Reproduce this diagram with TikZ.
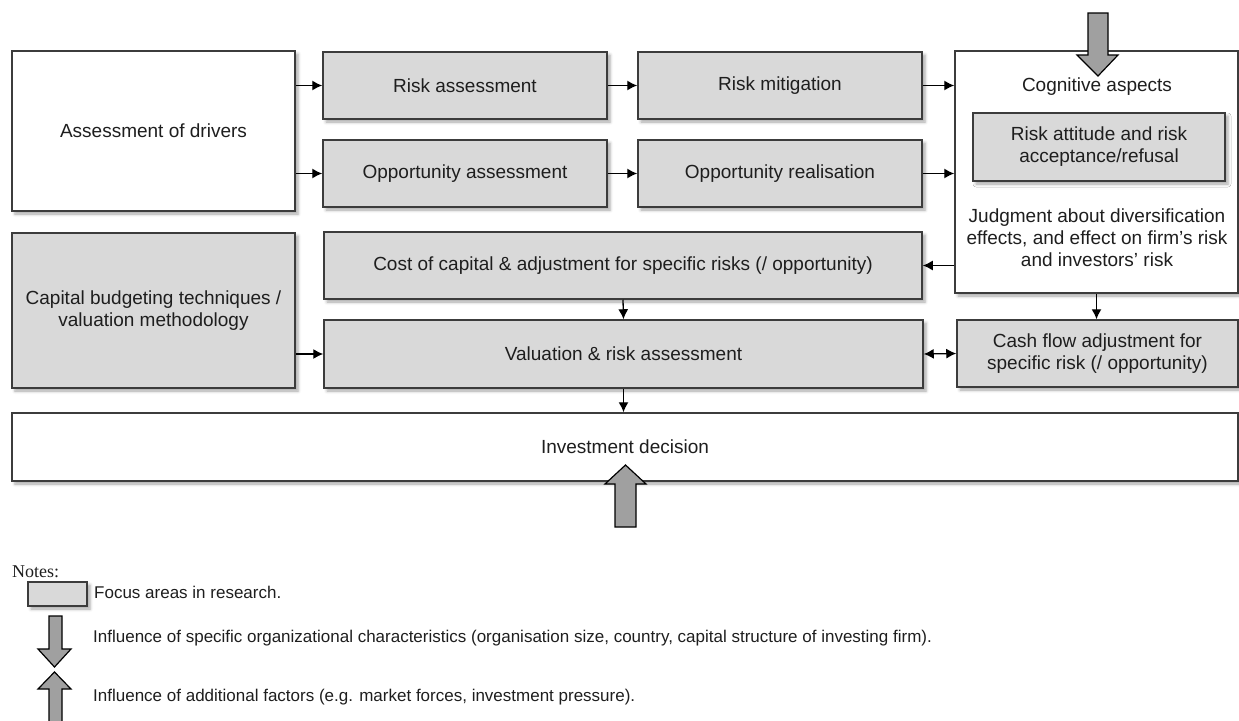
\documentclass[tikz,border=0pt]{standalone}
\usepackage{fontspec}
\setmainfont{Liberation Sans}
\newfontfamily\notesfont{Liberation Serif}
\usepackage{xcolor}
\usetikzlibrary{arrows.meta,shadows.blur}
\definecolor{grisFoco}{RGB}{217, 217, 217}
\definecolor{grisBorde}{RGB}{60, 60, 60}
\definecolor{grisFlecha}{RGB}{160, 160, 160}
\definecolor{grisTexto}{RGB}{30, 30, 30}

\begin{document}
\begin{tikzpicture}[x=1pt, y=-1pt,
  plain/.style={rectangle, draw=grisBorde, line width=1.5pt, fill=white, align=center,
    inner sep=0pt, text=grisTexto, font=\fontsize{19}{22}\selectfont,
    blur shadow={shadow xshift=3pt, shadow yshift=-3pt, shadow blur radius=3pt, shadow opacity=35}},
  focus/.style={plain, fill=grisFoco},
  txt/.style={align=center, inner sep=0pt, text=grisTexto, font=\fontsize{19}{22}\selectfont},
  note/.style={anchor=west, inner sep=0pt, text=grisTexto, font=\fontsize{17}{20}\selectfont},
  arrow/.style={-{Latex[length=10pt, width=10pt]}, line width=1.3pt},
  bigarrow/.style={draw=black, line width=1.2pt, fill=grisFlecha, line join=miter}
]
\useasboundingbox (0,0) rectangle (1239,720);

% upper row
\node[plain, minimum width=283pt, minimum height=160pt] (drivers) at (153.5,131) {Assessment of drivers};
\node[focus, minimum width=284pt, minimum height=67pt] (riskass) at (465,85.5) {Risk assessment};
\node[focus, minimum width=284pt, minimum height=67pt] (riskmit) at (780,85.5) {Risk mitigation};
\node[focus, minimum width=284pt, minimum height=67pt] (oppass) at (465,173.5) {Opportunity assessment};
\node[focus, minimum width=284pt, minimum height=67pt] (oppreal) at (780,173.5) {Opportunity realisation};

% cognitive block
\node[plain, minimum width=283pt, minimum height=242pt] (cognitive) at (1096.5,172) {};
\node[txt] (cogtitle) at (1097,87) {Cognitive aspects};
\node[focus, minimum width=252pt, minimum height=68pt] (attitude) at (1099,147) {Risk attitude and risk\\acceptance/refusal};
\node[txt] (judgment) at (1097,238) {Judgment about diversification\\effects, and effect on firm’s risk\\and investors’ risk};

% lower rows
\node[focus, minimum width=283pt, minimum height=155pt] (capbud) at (153.5,310.5) {Capital budgeting techniques /\\valuation methodology};
\node[focus, minimum width=598pt, minimum height=67pt] (cost) at (623,265.5) {Cost of capital \& adjustment for specific risks (/ opportunity)};
\node[focus, minimum width=599pt, minimum height=68pt] (valuation) at (623.5,354) {Valuation \& risk assessment};
\node[focus, minimum width=281pt, minimum height=67pt] (cashflow) at (1097.5,353.5) {Cash flow adjustment for\\specific risk (/ opportunity)};
\node[plain, minimum width=1226pt, minimum height=68pt] (invest) at (625,447) {Investment decision};

% connectors
\draw[arrow] (drivers.east |- riskass.west) -- (riskass.west);
\draw[arrow] (drivers.east |- oppass.west) -- (oppass.west);
\draw[arrow] (riskass) -- (riskmit);
\draw[arrow] (oppass) -- (oppreal);
\draw[arrow] (riskmit.east) -- (riskmit.east -| cognitive.west);
\draw[arrow] (oppreal.east) -- (oppreal.east -| cognitive.west);
\draw[arrow] (cognitive.west |- cost.east) -- (cost.east);
\draw[arrow] (cost.south) -- (valuation.north);
\draw[arrow] (cognitive.south) -- (cognitive.south |- cashflow.north);
\draw[arrow] (capbud.east |- valuation.west) -- (valuation.west);
\draw[{Latex[length=10pt, width=10pt]}-{Latex[length=10pt, width=10pt]}, line width=1.3pt] (valuation.east) -- (cashflow.west);
\draw[arrow] (valuation.south) -- (valuation.south |- invest.north);

% block arrows
\draw[bigarrow] (1088,13) -- (1108,13) -- (1108,55) -- (1118,55) -- (1098,76) -- (1077,55) -- (1088,55) -- cycle;
\draw[bigarrow] (615,527) -- (636,527) -- (636,484) -- (646,484) -- (625.5,465) -- (605,484) -- (615,484) -- cycle;

% notes
\node[note, font=\notesfont\fontsize{18}{20}\selectfont] (notes) at (12,572) {Notes:};
\node[focus, minimum width=59pt, minimum height=24pt] (legfocus) at (57.5,594) {};
\node[note] (txtfocus) at (94,592) {Focus areas in research.};
\draw[bigarrow] (49,616) -- (62,616) -- (62,649) -- (71,649) -- (54.5,667) -- (38,649) -- (49,649) -- cycle;
\node[note] (txtorg) at (93,638) {Influence of specific organizational characteristics (organisation size, country, capital structure of investing firm).};
\draw[bigarrow] (49,730) -- (62,730) -- (62,689) -- (71,689) -- (54.5,672) -- (38,689) -- (49,689) -- cycle;
\node[note] (txtadd) at (93,697) {Influence of additional factors (e.g. market forces, investment pressure).};
\end{tikzpicture}
\end{document}
